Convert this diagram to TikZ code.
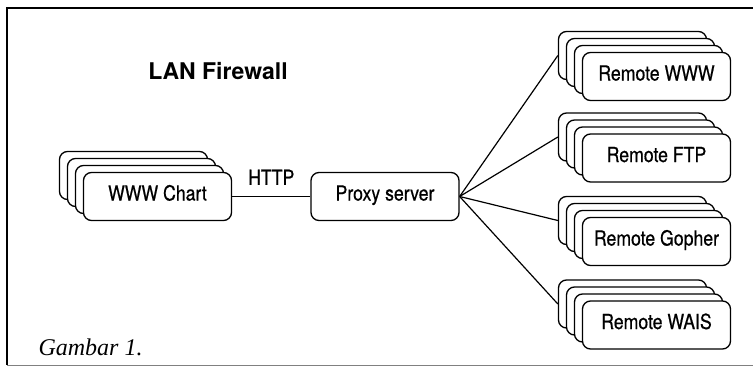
\documentclass[tikz,border=0pt]{standalone}
\usepackage{fontspec}
\usepackage{tikz}
\setmainfont{Liberation Serif}
\setsansfont{TeX Gyre Heros}
\newfontfamily\narrowsf[FakeStretch=0.85,FakeBold=0.6]{TeX Gyre Heros}
\tikzset{unit/.style={draw,rounded corners=8pt,fill=white,line width=1.3pt,
    minimum width=148pt,minimum height=48pt,text height=15pt,text depth=7pt,
    font=\narrowsf\fontsize{20.8}{24}\selectfont},
    link/.style={draw,line width=1.2pt},
    tag/.style={font=\narrowsf\fontsize{20.8}{24}\selectfont,inner sep=0pt},
    frame/.style={line width=2pt}}
% a pile of four boxes, the front one carries the text
\newcommand{\pile}[4]{%
    \node[unit] (#1-3) at (#2-24,#3-21) {};
    \node[unit] (#1-2) at (#2-16,#3-14) {};
    \node[unit] (#1-1) at (#2-8,#3-7) {};
    \node[unit] (#1) at (#2,#3) {#4};}

\begin{document}
\begin{tikzpicture}[x=1pt,y=-1pt]
\useasboundingbox (0,0) rectangle (753,367);
\draw[frame] (753,8) -- (7,8) -- (7,365);
\draw[line width=1pt,gray] (7,365) -- (753,365);

\node[anchor=base,font=\sffamily\bfseries\fontsize{23}{26}\selectfont] (title) at (218,79) {LAN Firewall};

\pile{chart}{157.5}{196.5}{WWW Chart}
\node[unit] (proxy) at (385,196.5) {Proxy server};

\pile{www}{656.5}{76.5}{Remote WWW}
\pile{ftp}{656.5}{158}{Remote FTP}
\pile{gopher}{656.5}{241.5}{Remote Gopher}
\pile{wais}{656.5}{325}{Remote WAIS}

\draw[link] (chart) -- node[tag,above=11pt] (http) {HTTP} (proxy);
\draw[link] (proxy.east) -- (www-3.west);
\draw[link] (proxy.east) -- (ftp-3.west);
\draw[link] (proxy.east) -- (gopher-3.west);
\draw[link] (proxy.east) -- (wais-3.west);

\node[anchor=base west,font=\rmfamily\itshape\fontsize{24}{28}\selectfont] (caption) at (35,355) {Gambar 1.};
\end{tikzpicture}
\end{document}
